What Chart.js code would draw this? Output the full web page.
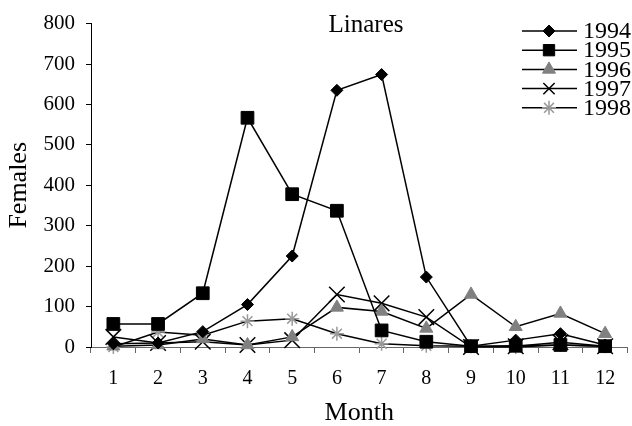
<!DOCTYPE html>
<html>
<head>
<meta charset="utf-8">
<script src="https://cdn.jsdelivr.net/npm/chart.js@4"></script>
<style>
  html, body { margin: 0; padding: 0; background: #fff; overflow: hidden; }
  #wrap { width: 640px; height: 426px; }
</style>
</head>
<body>
<div id="wrap"><canvas id="chart" width="640" height="426"></canvas></div>
<script>
// Data (females per month)
const months = ["1", "2", "3", "4", "5", "6", "7", "8", "9", "10", "11", "12"];
const years = ["1994", "1995", "1996", "1997", "1998"];
const y1994 = [8, 10, 38, 105, 225, 635, 674, 173, 2, 17, 33, 5];
const y1995 = [57, 57, 133, 567, 378, 337, 41, 13, 2, 3, 5, 2];
const y1996 = [2, 5, 20, 5, 25, 98, 88, 46, 130, 50, 83, 33];
const y1997 = [25, 10, 13, 5, 17, 130, 108, 74, 0, 2, 12, 2];
const y1998 = [0, 37, 29, 64, 70, 33, 8, 3, 2, 0, 5, 2];
const yTicks = [0, 100, 200, 300, 400, 500, 600, 700, 800];

const FONT = "'Liberation Serif', 'Times New Roman', serif";

function series(label, data, style, radius, fill, stroke, bw) {
  return {
    label: label,
    data: data,
    borderColor: "#000",
    borderWidth: 1.5,
    tension: 0,
    fill: false,
    clip: false,
    pointStyle: style,
    pointRadius: radius,
    pointHoverRadius: radius,
    pointBackgroundColor: fill,
    pointBorderColor: stroke,
    pointBorderWidth: bw
  };
}

const datasets = [
  series(years[0], y1994, "rectRot", 6, "#000", "#000", 1),
  series(years[1], y1995, "rect", 9, "#000", "#000", 1),
  series(years[2], y1996, "triangle", 7.5, "#808080", "#808080", 1),
  series(years[3], y1997, "crossRot", 11, "#000", "#000", 1.5),
  series(years[4], y1998, "star", 7, "#999", "#999", 1.5)
];

// Title inside the plot and the hand-drawn legend at the top right
const decorations = {
  id: "decorations",
  afterDraw(chart) {
    const ctx = chart.ctx;
    ctx.save();
    ctx.fillStyle = "#000";
    ctx.font = "25px " + FONT;
    ctx.textAlign = "center";
    ctx.textBaseline = "middle";
    ctx.fillText("Linares", 366, 25);

    ctx.font = "24px " + FONT;
    ctx.textAlign = "left";
    chart.data.datasets.forEach((ds, i) => {
      const y = 31 + 19.2 * i;
      ctx.strokeStyle = "#000";
      ctx.lineWidth = 1.5;
      ctx.beginPath();
      ctx.moveTo(522, y);
      ctx.lineTo(577, y);
      ctx.stroke();
      ctx.fillStyle = ds.pointBackgroundColor;
      ctx.strokeStyle = ds.pointBorderColor;
      ctx.lineWidth = ds.pointBorderWidth;
      const r = ds.pointStyle === "crossRot" ? 8 : (ds.pointStyle === "rect" ? 8 : ds.pointRadius);
      Chart.helpers.drawPoint(ctx, {
        pointStyle: ds.pointStyle,
        radius: r,
        rotation: 0,
        borderWidth: ds.pointBorderWidth
      }, 549, y);
      ctx.fillStyle = "#000";
      ctx.fillText(ds.label, 583, y + 1);
    });
    ctx.restore();
  }
};

new Chart(document.getElementById("chart"), {
  type: "line",
  data: { labels: months, datasets: datasets },
  plugins: [decorations],
  options: {
    responsive: false,
    animation: false,
    layout: { padding: { top: 18, right: 3, left: 0, bottom: 0 } },
    plugins: {
      legend: { display: false },
      tooltip: { enabled: false }
    },
    scales: {
      x: {
        type: "category",
        offset: true,
        afterFit(scale) { scale.height = 79; },
        grid: { offset: true, drawOnChartArea: false, drawTicks: true, tickLength: 6, color: "#666" },
        border: { color: "#666", width: 1 },
        ticks: { color: "#000", padding: 14, maxRotation: 0, autoSkip: false, font: { family: FONT, size: 20 } },
        title: { display: true, text: "Month", color: "#000", padding: { top: 0, bottom: 0 }, font: { family: FONT, size: 26, lineHeight: 1 } }
      },
      y: {
        min: 0,
        max: 800,
        afterFit(scale) { scale.width = 91; },
        afterBuildTicks(scale) { scale.ticks = yTicks.map(v => ({ value: v })); },
        grid: { drawOnChartArea: false, drawTicks: true, tickLength: 5, color: "#000" },
        border: { color: "#000", width: 1 },
        ticks: { color: "#000", padding: 11, font: { family: FONT, size: 21 } },
        title: { display: true, text: "Females", color: "#000", padding: { top: 6, bottom: 0 }, font: { family: FONT, size: 26, lineHeight: 1 } }
      }
    }
  }
});
</script>
</body>
</html>
